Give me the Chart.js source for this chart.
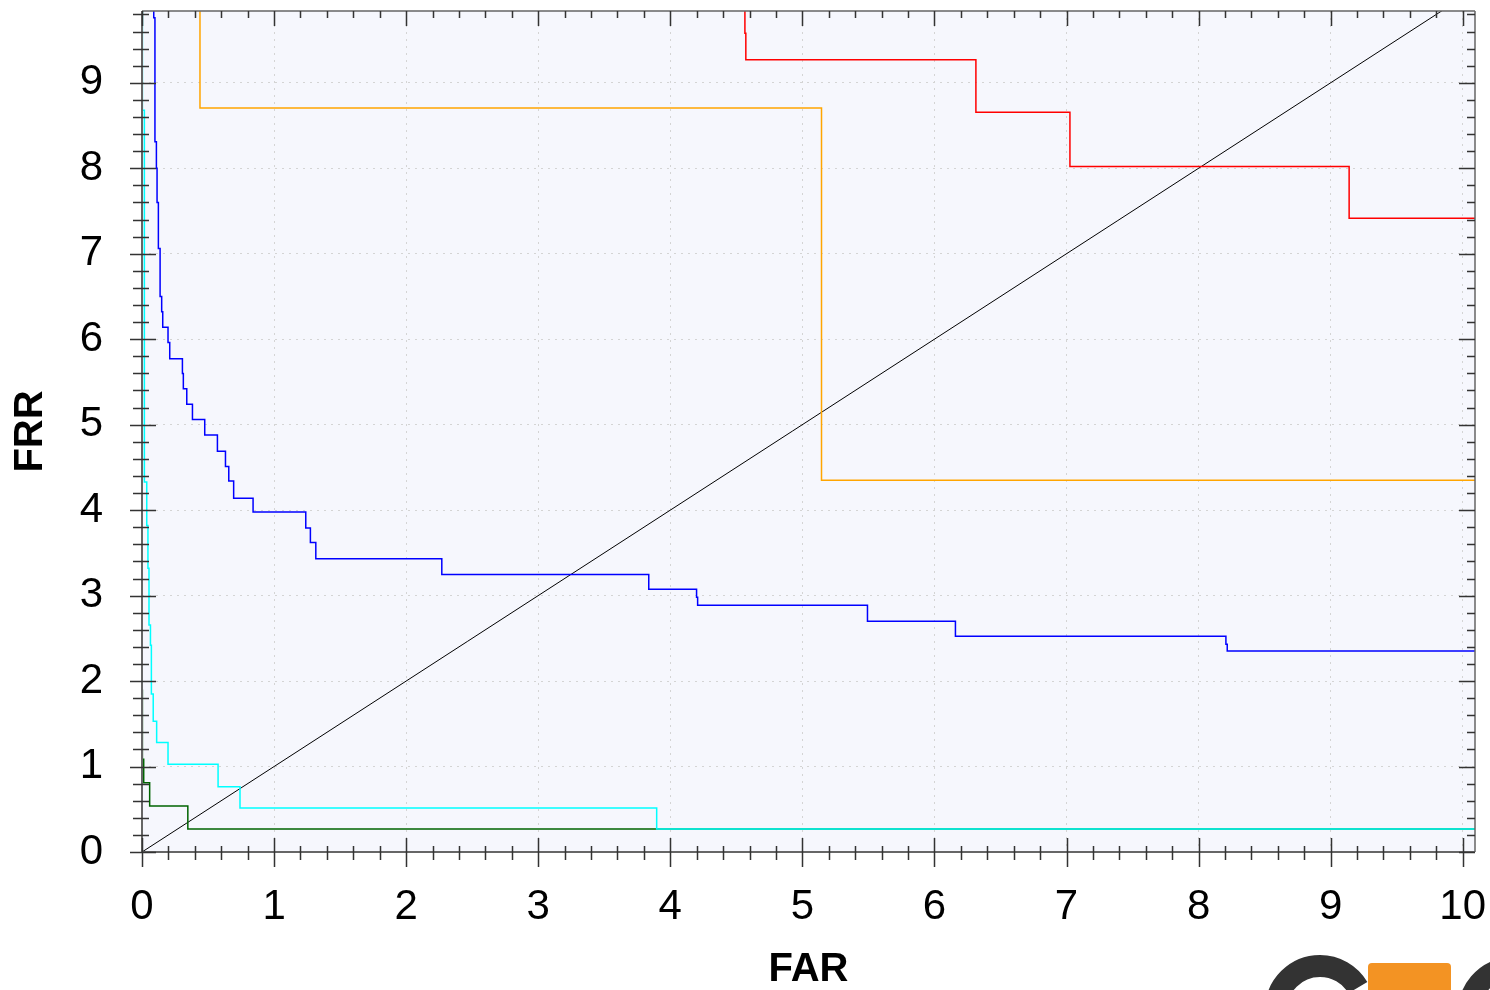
<!DOCTYPE html>
<html><head><meta charset="utf-8">
<script src="https://cdn.jsdelivr.net/npm/chart.js@4.4.0/dist/chart.umd.min.js"></script>
<style>html,body{margin:0;padding:0;background:#fff;}canvas{display:block;}</style>
</head><body>
<canvas id="c" width="1490" height="990"></canvas>
<script>
// ---- data ----
const xTicks = [0,1,2,3,4,5,6,7,8,9,10];
const yTicks = [0,1,2,3,4,5,6,7,8,9];
const xTitle = 'FAR';
const yTitle = 'FRR';

const diagX = [0, 10.2];
const diagY = [0, 10.2];

const redX = [4.565, 4.565, 4.572, 6.314, 7.026, 9.14, 10.2];
const redY = [10.0, 9.58, 9.27, 8.655, 8.02, 7.415, 7.415];

const orangeX = [0.439, 0.439, 5.145, 10.2];
const orangeY = [10.0, 8.705, 4.35, 4.35];

const blueX = [0.089, 0.089, 0.098, 0.109, 0.114, 0.124, 0.137, 0.149, 0.157, 0.197, 0.210, 0.306, 0.313, 0.339, 0.382, 0.475, 0.571, 0.632, 0.657, 0.694, 0.841, 1.240, 1.275, 1.316, 2.270, 3.837, 4.199, 4.207, 5.493, 6.159, 8.207, 8.217, 10.2];
const blueY = [10.0, 9.76, 8.31, 8.00, 7.60, 7.06, 6.50, 6.32, 6.14, 5.96, 5.77, 5.60, 5.42, 5.24, 5.06, 4.88, 4.69, 4.51, 4.34, 4.14, 3.977, 3.79, 3.62, 3.43, 3.248, 3.075, 2.98, 2.887, 2.70, 2.524, 2.43, 2.351, 2.351];

const cyanX = [0.003, 0.003, 0.018, 0.036, 0.045, 0.053, 0.064, 0.071, 0.085, 0.111, 0.197, 0.576, 0.742, 3.897, 10.2];
const cyanY = [10.0, 8.68, 4.33, 3.82, 3.32, 2.655, 2.42, 1.85, 1.53, 1.28, 1.026, 0.764, 0.515, 0.269, 0.269];

const greenX = [0.003, 0.003, 0.013, 0.058, 0.347, 10.2];
const greenY = [1.90, 1.084, 0.81, 0.538, 0.269, 0.269];

const xMax = 10.093;
const yMax = 9.84;
const minorStep = 0.2;

// ---- helpers ----
const pts = (xs, ys) => xs.map((x, i) => ({x, y: ys[i]}));
const FONT = 'Liberation Sans, Arial, sans-serif';

function series(xs, ys, color, width, stepped) {
  return {data: pts(xs, ys), borderColor: color, backgroundColor: color, borderWidth: width,
          pointRadius: 0, stepped: stepped, fill: false, clip: 0, tension: 0};
}
function noPad(s) { s.paddingTop = 0; s.paddingBottom = 0; s.paddingLeft = 0; s.paddingRight = 0; }

const framePlugin = {
  id: 'frame',
  beforeDraw(chart) {
    const {ctx, chartArea: a} = chart;
    ctx.save();
    ctx.fillStyle = '#f6f7fd';
    ctx.fillRect(a.left, a.top, a.right - a.left, a.bottom - a.top);
    ctx.restore();
  },
  afterDatasetsDraw(chart) {
    const {ctx, chartArea: a, scales: {x, y}} = chart;
    ctx.save();
    ctx.lineCap = 'butt';
    ctx.strokeStyle = '#666';
    ctx.lineWidth = 1.5;
    ctx.beginPath();
    ctx.moveTo(a.right, a.top); ctx.lineTo(a.left, a.top);
    ctx.moveTo(a.right, a.top); ctx.lineTo(a.right, a.bottom);
    ctx.stroke();
    ctx.lineWidth = 2;
    ctx.beginPath();
    ctx.moveTo(a.left, a.top); ctx.lineTo(a.left, a.bottom); ctx.lineTo(a.right, a.bottom);
    ctx.stroke();
    ctx.strokeStyle = '#333';
    ctx.lineWidth = 1.5;
    ctx.beginPath();
    const nx = Math.round(xTicks[xTicks.length - 1] / minorStep);
    for (let i = 0; i <= nx; i++) {
      const v = i * minorStep;
      const major = i % 5 === 0;
      const px = Math.round(x.getPixelForValue(v)) + 0.5;
      ctx.moveTo(px, a.bottom - (major ? 14 : 6)); ctx.lineTo(px, a.bottom + (major ? 15 : 8));
      ctx.moveTo(px, a.top); ctx.lineTo(px, a.top + (major ? 15 : 7));
    }
    const ny = Math.floor(yMax / minorStep);
    for (let i = 0; i <= ny; i++) {
      const v = i * minorStep;
      const major = i % 5 === 0;
      const py = Math.round(y.getPixelForValue(v)) + 0.5;
      ctx.moveTo(a.left - (major ? 12 : 9), py); ctx.lineTo(a.left + (major ? 14 : 7), py);
      ctx.moveTo(a.right - (major ? 16 : 8), py); ctx.lineTo(a.right, py);
    }
    ctx.stroke();
    ctx.restore();
  },
  afterDraw(chart) {
    const {ctx} = chart;
    ctx.save();
    ctx.strokeStyle = '#333';
    ctx.lineWidth = 22;
    ctx.beginPath();
    ctx.arc(1320, 1010, 44, Math.PI * 1.0, Math.PI * 1.83);
    ctx.stroke();
    ctx.beginPath();
    ctx.arc(1513, 1012, 44, Math.PI * 1.0, Math.PI * 1.45);
    ctx.stroke();
    ctx.fillStyle = '#f39323';
    ctx.beginPath();
    if (ctx.roundRect) ctx.roundRect(1368, 963, 83, 40, 4); else ctx.rect(1368, 963, 83, 40);
    ctx.fill();
    ctx.restore();
  }
};

new Chart(document.getElementById('c'), {
  type: 'line',
  data: {
    datasets: [
      series(blueX, blueY, '#0000ff', 1.5, true),
      series(redX, redY, '#ff0000', 1.5, true),
      series(orangeX, orangeY, '#ffa500', 1.5, true),
      series(cyanX, cyanY, '#00ffff', 1.5, true),
      series(greenX, greenY, '#006400', 1.5, true),
      series(diagX, diagY, '#000000', 1, false)
    ]
  },
  options: {
    responsive: false,
    devicePixelRatio: 1,
    animation: false,
    events: [],
    layout: {padding: {top: 11, right: 15, bottom: 0, left: 0}},
    plugins: {legend: {display: false}, tooltip: {enabled: false}, title: {display: false}},
    scales: {
      x: {
        type: 'linear', min: 0, max: xMax,
        afterBuildTicks: s => { s.ticks = xTicks.map(v => ({value: v})); },
        afterFit: s => { s.height = 138; noPad(s); },
        ticks: {font: {family: FONT, size: 42}, color: '#000', padding: 30, maxRotation: 0, autoSkip: false},
        grid: {drawTicks: false, lineWidth: 1,
               color: c => (c.tick && c.tick.value > 0) ? '#d4d4d4' : 'rgba(0,0,0,0)'},
        border: {display: false, dash: [2, 5]},
        title: {display: true, text: xTitle, color: '#000',
                font: {family: FONT, size: 40, weight: 'bold', lineHeight: 1}, padding: 0}
      },
      y: {
        type: 'linear', min: 0, max: yMax,
        afterBuildTicks: s => { s.ticks = yTicks.map(v => ({value: v})); },
        afterFit: s => { s.width = 142; noPad(s); },
        ticks: {font: {family: FONT, size: 42}, color: '#000', padding: 39, autoSkip: false},
        grid: {drawTicks: false, lineWidth: 1,
               color: c => (c.tick && c.tick.value > 0) ? '#d4d4d4' : 'rgba(0,0,0,0)'},
        border: {display: false, dash: [2, 5]},
        title: {display: true, text: yTitle, color: '#000',
                font: {family: FONT, size: 40, weight: 'bold', lineHeight: 1}, padding: {top: 11, bottom: 0}}
      }
    }
  },
  plugins: [framePlugin]
});
</script>
</body></html>
